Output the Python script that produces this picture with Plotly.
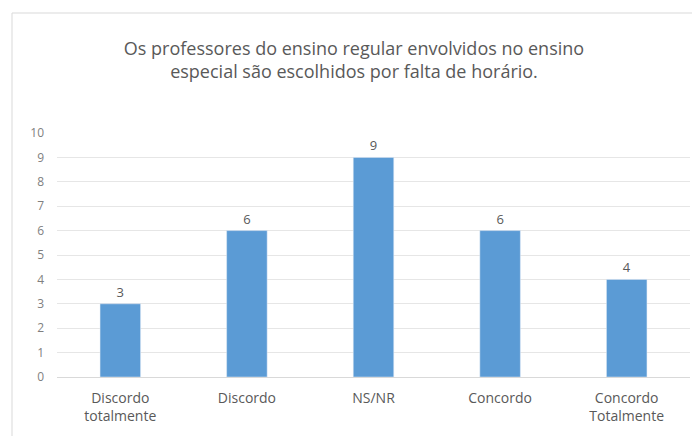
import plotly.graph_objects as go

categories = ["Discordo<br>totalmente", "Discordo", "NS/NR", "Concordo", "Concordo<br>Totalmente"]
values = [3, 6, 9, 6, 4]
title_text = "Os professores do ensino regular envolvidos no ensino<br>especial são escolhidos por falta de horário."

# page body has an 8px margin, so the figure is drawn 8px in from the top-left
W, H = 692, 428
L, R, T, B = 49, 10, 125, 59
pw, ph = W - L - R, H - T - B

def px(x):
    return (x - L) / pw

def py(y):
    return (H - B - y) / ph

fig = go.Figure(go.Bar(
    x=categories, y=values,
    marker_color="#5B9BD5",
    text=values, textposition="outside",
    textfont=dict(color="#595959", size=13),
    cliponaxis=False,
))

fig.update_layout(
    width=W, height=H,
    margin=dict(l=L, r=R, t=T, b=B),
    paper_bgcolor="white", plot_bgcolor="white",
    bargap=0.68,
    font=dict(family="Open Sans, DejaVu Sans, sans-serif", color="#595959"),
    title=dict(text=title_text, x=0.5, xanchor="center", y=1 - 47 / H, yanchor="middle",
               font=dict(size=18, color="#595959")),
    showlegend=False,
    xaxis=dict(showgrid=False, showline=True, linecolor="#D9D9D9", ticks="",
               ticklabelstandoff=8,
               tickfont=dict(size=14, color="#595959")),
    yaxis=dict(range=[0, 10], dtick=1, showgrid=True, gridcolor="#E6E6E6",
               zeroline=False, showline=False, ticks="", ticklabelstandoff=12,
               tickfont=dict(size=12, color="#7F7F7F")),
    shapes=[dict(type="path", xref="paper", yref="paper",
                 path=f"M {px(4)} {py(440)} L {px(4)} {py(5)} L {px(690)} {py(5)} L {px(690)} {py(440)}",
                 line=dict(color="#D9D9D9", width=1))],
)

fig.write_html("out.html")
